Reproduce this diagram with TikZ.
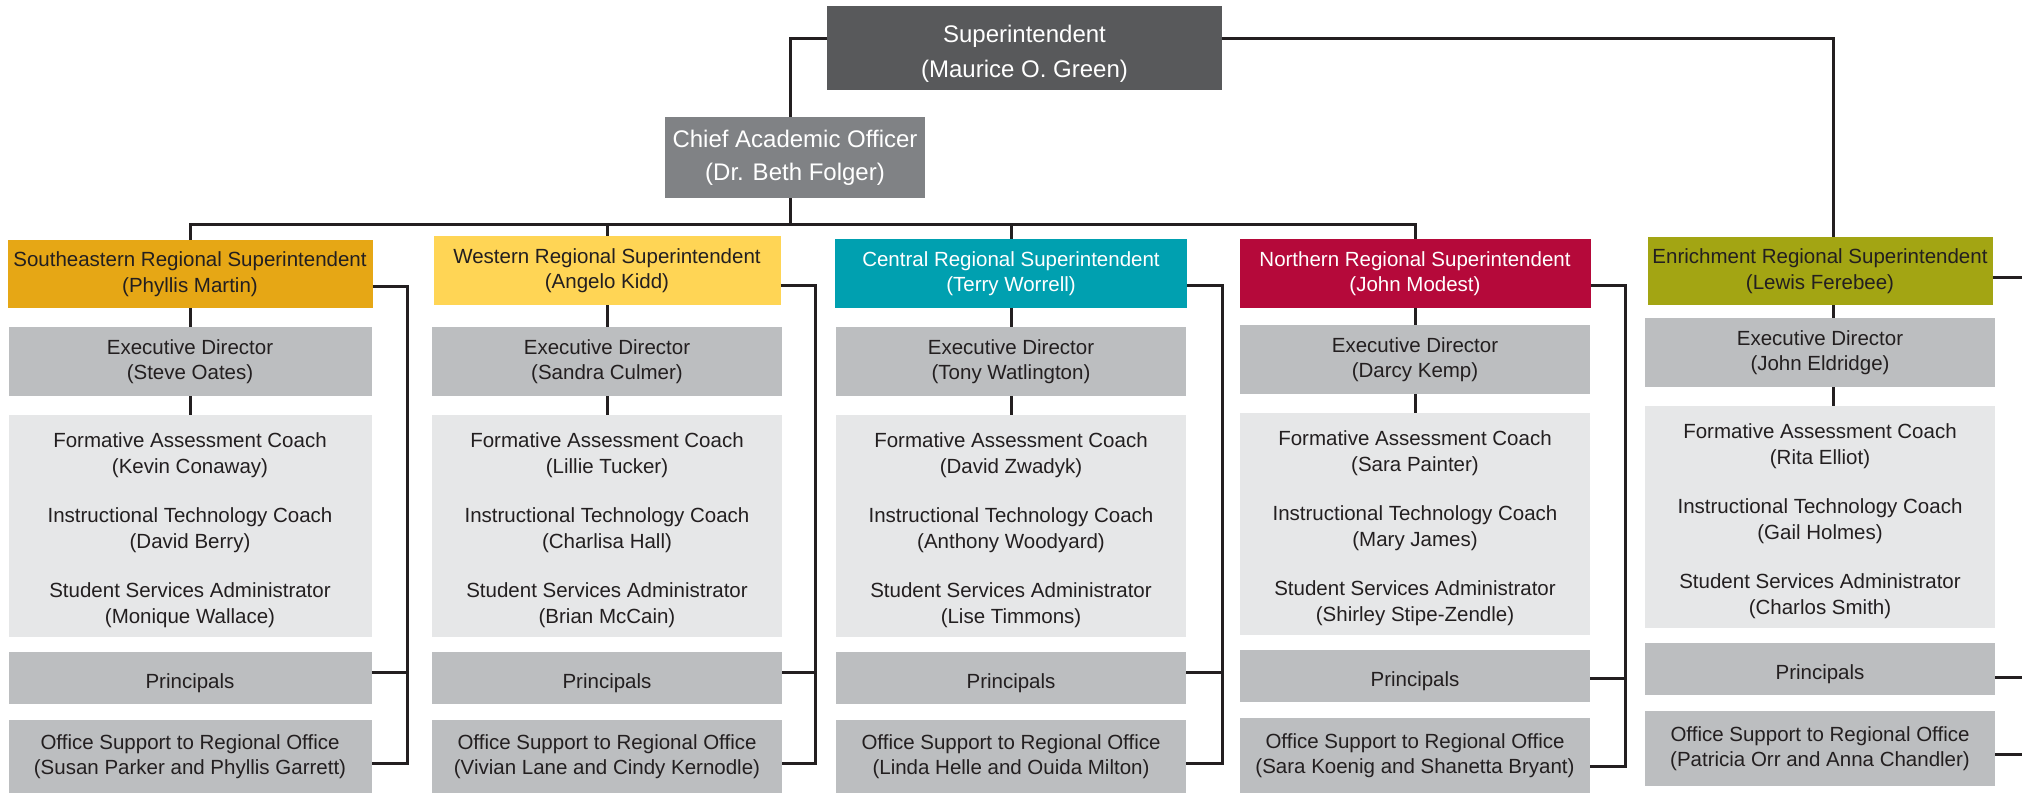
\documentclass[tikz,border=0pt]{standalone}
\usepackage{fontspec}
\setmainfont{Liberation Sans}
\definecolor{ink}{HTML}{231F20}
\definecolor{supgrey}{HTML}{58595B}
\definecolor{caogrey}{HTML}{808285}
\definecolor{boxgrey}{HTML}{BCBEC0}
\definecolor{palegrey}{HTML}{E6E7E8}
\definecolor{seorange}{HTML}{E6A715}
\definecolor{weyellow}{HTML}{FFD555}
\definecolor{ceteal}{HTML}{00A0B0}
\definecolor{nocrimson}{HTML}{B5093A}
\definecolor{enolive}{HTML}{A3A513}

\begin{document}
\begin{tikzpicture}[x = 1pt, y = -1pt,
    box/.style = {rectangle, inner sep = 0pt, align = center, text = ink,
        font = \fontsize{20.5}{25.5}\selectfont},
    head/.style = {box, text = white, font = \fontsize{24}{33}\selectfont},
    grey/.style = {box, fill = boxgrey},
    pale/.style = {box, fill = palegrey},
    link/.style = {draw = ink, line width = 3pt}]
    \useasboundingbox (0,0) rectangle (2022,793);

    % top
    \node[head, fill = supgrey, minimum width = 395pt, minimum height = 84pt, font = \fontsize{24}{35}\selectfont] (sup) at (1024.5,48) {\rule{0pt}{28pt}Superintendent\\(Maurice O. Green)};
    \node[head, fill = caogrey, minimum width = 260pt, minimum height = 81pt] (cao) at (795,157.5) {Chief Academic Officer\\(Dr. Beth Folger)};

    % regional superintendents
    \node[box, fill = seorange, minimum width = 365pt, minimum height = 68pt] (se) at (190,274) {Southeastern Regional Superintendent\\(Phyllis Martin)};
    \node[box, fill = weyellow, minimum width = 347pt, minimum height = 69pt] (we) at (607,270.5) {Western Regional Superintendent\\(Angelo Kidd)};
    \node[box, fill = ceteal, text = white, minimum width = 352pt, minimum height = 69pt] (ce) at (1011,273.5) {Central Regional Superintendent\\(Terry Worrell)};
    \node[box, fill = nocrimson, text = white, minimum width = 351pt, minimum height = 69pt] (no) at (1415,273.5) {Northern Regional Superintendent\\(John Modest)};
    \node[box, fill = enolive, minimum width = 345pt, minimum height = 68pt] (en) at (1820,271) {Enrichment Regional Superintendent\\(Lewis Ferebee)};

    % southeastern
    \node[grey, minimum width = 363pt, minimum height = 69pt] (se-ed) at (190,361.5) {Executive Director\\(Steve Oates)};
    \node[pale, minimum width = 363pt, minimum height = 222pt] (se-fa) at (190,526) {\rule{0pt}{23pt}Formative Assessment Coach\\(Kevin Conaway)\\[24pt]Instructional Technology Coach\\(David Berry)\\[24pt]Student Services Administrator\\(Monique Wallace)};
    \node[grey, minimum width = 363pt, minimum height = 52pt, text height = 20pt, text depth = 0pt] (se-pr) at (190,678) {Principals};
    \node[grey, minimum width = 363pt, minimum height = 73pt] (se-os) at (190,756.5) {Office Support to Regional Office\\(Susan Parker and Phyllis Garrett)};

    % western
    \node[grey, minimum width = 350pt, minimum height = 69pt] (we-ed) at (607,361.5) {Executive Director\\(Sandra Culmer)};
    \node[pale, minimum width = 350pt, minimum height = 222pt] (we-fa) at (607,526) {\rule{0pt}{23pt}Formative Assessment Coach\\(Lillie Tucker)\\[24pt]Instructional Technology Coach\\(Charlisa Hall)\\[24pt]Student Services Administrator\\(Brian McCain)};
    \node[grey, minimum width = 350pt, minimum height = 52pt, text height = 20pt, text depth = 0pt] (we-pr) at (607,678) {Principals};
    \node[grey, minimum width = 350pt, minimum height = 73pt] (we-os) at (607,756.5) {Office Support to Regional Office\\(Vivian Lane and Cindy Kernodle)};

    % central
    \node[grey, minimum width = 350pt, minimum height = 69pt] (ce-ed) at (1011,361.5) {Executive Director\\(Tony Watlington)};
    \node[pale, minimum width = 350pt, minimum height = 222pt] (ce-fa) at (1011,526) {\rule{0pt}{23pt}Formative Assessment Coach\\(David Zwadyk)\\[24pt]Instructional Technology Coach\\(Anthony Woodyard)\\[24pt]Student Services Administrator\\(Lise Timmons)};
    \node[grey, minimum width = 350pt, minimum height = 52pt, text height = 20pt, text depth = 0pt] (ce-pr) at (1011,678) {Principals};
    \node[grey, minimum width = 350pt, minimum height = 73pt] (ce-os) at (1011,756.5) {Office Support to Regional Office\\(Linda Helle and Ouida Milton)};

    % northern
    \node[grey, minimum width = 350pt, minimum height = 69pt] (no-ed) at (1415,359.5) {Executive Director\\(Darcy Kemp)};
    \node[pale, minimum width = 350pt, minimum height = 222pt] (no-fa) at (1415,524) {\rule{0pt}{23pt}Formative Assessment Coach\\(Sara Painter)\\[24pt]Instructional Technology Coach\\(Mary James)\\[24pt]Student Services Administrator\\(Shirley Stipe-Zendle)};
    \node[grey, minimum width = 350pt, minimum height = 52pt, text height = 20pt, text depth = 0pt] (no-pr) at (1415,676) {Principals};
    \node[grey, minimum width = 350pt, minimum height = 75pt] (no-os) at (1415,755.5) {Office Support to Regional Office\\(Sara Koenig and Shanetta Bryant)};

    % enrichment
    \node[grey, minimum width = 350pt, minimum height = 69pt] (en-ed) at (1820,352.5) {Executive Director\\(John Eldridge)};
    \node[pale, minimum width = 350pt, minimum height = 222pt] (en-fa) at (1820,517) {\rule{0pt}{23pt}Formative Assessment Coach\\(Rita Elliot)\\[24pt]Instructional Technology Coach\\(Gail Holmes)\\[24pt]Student Services Administrator\\(Charlos Smith)};
    \node[grey, minimum width = 350pt, minimum height = 52pt, text height = 20pt, text depth = 0pt] (en-pr) at (1820,669) {Principals};
    \node[grey, minimum width = 350pt, minimum height = 75pt] (en-os) at (1820,748.5) {Office Support to Regional Office\\(Patricia Orr and Anna Chandler)};

    \coordinate (rim) at (2022,0);

    % connectors
    \draw[link]
    ([yshift=10pt]sup.west) -| ([xshift=-5pt]cao.north);
    \draw[link]
    ([xshift=-5pt]cao.south) -- ++(0,26) coordinate (bus) -| (se.north)
    (bus) -| (we.north)
    (bus) -| (ce.north)
    (bus) -| (no.north);
    \draw[link]
    ([yshift=10pt]sup.east) -| ([xshift=13pt]en.north);

    \draw[link] (se.south) -- (se-ed.north) (se-ed.south) -- (se-fa.north);
    \draw[link] (we.south) -- (we-ed.north) (we-ed.south) -- (we-fa.north);
    \draw[link] (ce.south) -- (ce-ed.north) (ce-ed.south) -- (ce-fa.north);
    \draw[link] (no.south) -- (no-ed.north) (no-ed.south) -- (no-fa.north);
    \draw[link] ([xshift=13pt]en.south) -- ([xshift=13pt]en-ed.north) ([xshift=13pt]en-ed.south) -- ([xshift=13pt]en-fa.north);

    \draw[link]
    ([yshift=-12pt]se.east) -- ++(35,0) coordinate (se-r) |- ([yshift=-6.5pt]se-os.east)
    ([yshift=6pt]se-pr.east) -- ([yshift=6pt]se-pr.east -| se-r);
    \draw[link]
    ([yshift=-15pt]we.east) -- ++(35,0) coordinate (we-r) |- ([yshift=-6.5pt]we-os.east)
    ([yshift=6pt]we-pr.east) -- ([yshift=6pt]we-pr.east -| we-r);
    \draw[link]
    ([yshift=-12pt]ce.east) -- ++(35,0) coordinate (ce-r) |- ([yshift=-6.5pt]ce-os.east)
    ([yshift=6pt]ce-pr.east) -- ([yshift=6pt]ce-pr.east -| ce-r);
    \draw[link]
    ([yshift=-12pt]no.east) -- ++(35,0) coordinate (no-r) |- ([yshift=-10.5pt]no-os.east)
    ([yshift=-2pt]no-pr.east) -- ([yshift=-2pt]no-pr.east -| no-r);
    \draw[link]
    ([yshift=-6pt]en.east) -- ([yshift=-6pt]en.east -| rim)
    ([yshift=-8pt]en-pr.east) -- ([yshift=-8pt]en-pr.east -| rim)
    ([yshift=-5.5pt]en-os.east) -- ([yshift=-5.5pt]en-os.east -| rim);
\end{tikzpicture}
\end{document}
